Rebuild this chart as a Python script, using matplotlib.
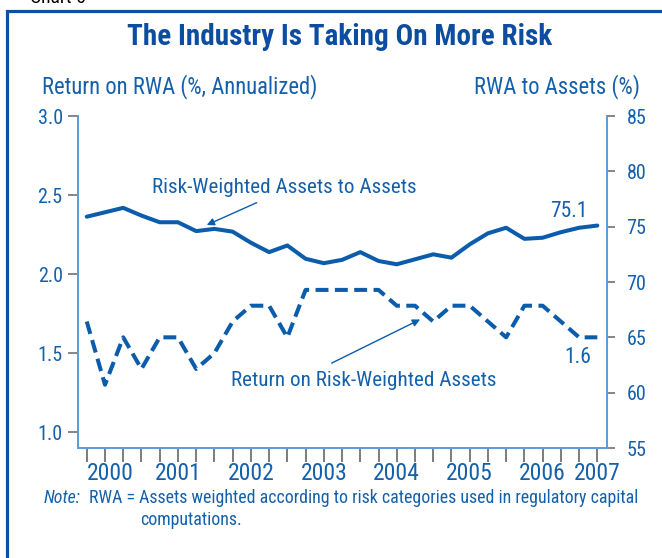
import matplotlib
matplotlib.use("Agg")
import matplotlib.pyplot as plt
from matplotlib import font_manager
from matplotlib.patches import Rectangle
from matplotlib.ticker import FixedLocator, NullFormatter, FixedFormatter

# ---------------- data ----------------
quarters = list(range(29))  # 2000Q1 .. 2007Q1
return_on_rwa = [1.7, 1.3, 1.6, 1.4, 1.6, 1.6, 1.4, 1.5, 1.7, 1.8,
                 1.8, 1.6, 1.9, 1.9, 1.9, 1.9, 1.9, 1.8, 1.8, 1.7,
                 1.8, 1.8, 1.7, 1.6, 1.8, 1.8, 1.7, 1.6, 1.6]
rwa_to_assets = [75.9, 76.3, 76.7, 76.0, 75.4, 75.4, 74.6, 74.8, 74.55, 73.55,
                 72.7, 73.3, 72.1, 71.7, 72.0, 72.7, 71.9, 71.6, 72.05, 72.5,
                 72.2, 73.4, 74.4, 74.9, 73.9, 74.0, 74.5, 74.9, 75.1]
year_labels = ["2000", "2001", "2002", "2003", "2004", "2005", "2006", "2007"]
year_label_pos = [1.3, 5, 9, 13, 17, 21, 25, 28]
left_ticks = [1.0, 1.5, 2.0, 2.5, 3.0]
right_ticks = [55, 60, 65, 70, 75, 80, 85]

# ---------------- fonts ----------------
entries = font_manager.fontManager.ttflist
names = {f.name for f in entries}

def has_condensed(family):
    return any(f.name == family and "condensed" in str(f.stretch) for f in entries)

FONT = None
STRETCH = "normal"
for fam in ["Roboto Condensed", "Liberation Sans Narrow", "Open Sans Condensed",
            "Noto Sans Condensed", "DejaVu Sans Condensed"]:
    if fam in names:
        FONT = fam
        break
if FONT is None:
    for fam in ["DejaVu Sans", "Noto Sans", "Open Sans", "Roboto", "Inter"]:
        if has_condensed(fam):
            FONT = fam
            STRETCH = "condensed"
            break
if FONT is None:
    FONT = "Roboto" if "Roboto" in names else "DejaVu Sans"

plt.rcParams["font.family"] = [FONT, "DejaVu Sans"]
plt.rcParams["font.stretch"] = STRETCH

NARROW = FONT not in ("Roboto", "DejaVu Sans") or STRETCH == "condensed"
S = 1.0 if NARROW else 0.9

LINE = "#0b5cab"
TEXT = "#1560ab"
TITLE = "#0d4d9f"
SPINE = "#5b9bd5"
TICK = "#666666"

fig = plt.figure(figsize=(6.62, 5.58), dpi=100)
W, H = 662, 558

def fx(px):
    return px / W

def fy(py):
    return 1 - py / H

ax = fig.add_axes([fx(78), fy(448), fx(607) - fx(78), fy(116) - fy(448)])
ax2 = ax.twinx()

ax.plot(quarters, return_on_rwa, color=LINE, lw=2.9, linestyle=(0, (3.2, 1.6)),
        dash_capstyle="butt", solid_joinstyle="round", zorder=3)
ax2.plot(quarters, rwa_to_assets, color=LINE, lw=2.9, solid_joinstyle="round",
         solid_capstyle="round", zorder=3)

ax.set_xlim(-0.48, 28.53)
ax.set_ylim(0.9, 3.0)
ax2.set_ylim(55, 85)

for a in (ax, ax2):
    a.spines["top"].set_visible(False)
    for s in ("left", "right", "bottom"):
        a.spines[s].set_color(SPINE)
        a.spines[s].set_linewidth(1.4)
    a.patch.set_visible(False)

ax.spines["right"].set_visible(False)
ax2.spines["left"].set_visible(False)
ax2.spines["bottom"].set_visible(False)

ax.set_yticks(left_ticks)
ax.set_yticklabels([f"{v:.1f}" for v in left_ticks])
ax2.set_yticks(right_ticks)
ax2.set_yticklabels([str(v) for v in right_ticks])

ax.tick_params(axis="y", direction="out", length=7, width=1.1, color=TICK,
               labelcolor=TEXT, labelsize=14.5 * S, pad=4)
ax2.tick_params(axis="y", direction="out", length=6, width=1.1, color=TICK,
                labelcolor=TEXT, labelsize=14.5 * S, pad=8)

ax.xaxis.remove_overlapping_locs = False
ax.xaxis.set_major_locator(FixedLocator(quarters))
ax.xaxis.set_major_formatter(NullFormatter())
ax.xaxis.set_minor_locator(FixedLocator(year_label_pos))
ax.xaxis.set_minor_formatter(FixedFormatter(year_labels))
ax.tick_params(axis="x", which="major", direction="out", length=10, width=1.2,
               color=TICK)
ax.tick_params(axis="x", which="minor", length=0, pad=10, labelsize=17 * S,
               labelcolor=TEXT)

# annotations
ax2.annotate("", xy=(6.58, 75.15), xytext=(9.32, 77.17),
             arrowprops=dict(arrowstyle="-|>", color=LINE, lw=1.0,
                             mutation_scale=11, shrinkA=0, shrinkB=0))
ax2.text(10.82, 78.58, "Risk-Weighted Assets to Assets", color=TEXT,
         fontsize=15.2 * S, ha="center", va="center")
ax.annotate("", xy=(18.28, 1.713), xytext=(13.43, 1.437),
            arrowprops=dict(arrowstyle="-|>", color=LINE, lw=1.0,
                            mutation_scale=11, shrinkA=0, shrinkB=0))
ax.text(15.21, 1.329, "Return on Risk-Weighted Assets", color=TEXT,
        fontsize=15.2 * S, ha="center", va="center")
ax2.text(26.45, 76.33, f"{rwa_to_assets[-1]:.1f}", color=TEXT, fontsize=15.5 * S,
         ha="center", va="center")
ax.text(26.94, 1.475, f"{return_on_rwa[-1]:.1f}", color=TEXT, fontsize=15.5 * S,
        ha="center", va="center")

# titles and labels
fig.text(fx(340), fy(37), "The Industry Is Taking On More Risk", color=TITLE,
         fontsize=21 * S, fontweight="bold", ha="center", va="center")
fig.text(fx(42), fy(87), "Return on RWA (%, Annualized)", color=TEXT,
         fontsize=16.3 * S, ha="left", va="center")
fig.text(fx(640), fy(87), "RWA to Assets (%)", color=TEXT,
         fontsize=16.3 * S, ha="right", va="center")

fig.text(fx(44), fy(498), "Note:", color=TEXT, fontsize=12.9 * S, style="italic",
         ha="left", va="center")
fig.text(fx(89), fy(498),
         "RWA = Assets weighted according to risk categories used in regulatory capital",
         color=TEXT, fontsize=12.9 * S, ha="left", va="center")
fig.text(fx(140), fy(520), "computations.", color=TEXT, fontsize=12.9 * S,
         ha="left", va="center")

# frame
fig.patches.append(Rectangle((fx(7), -0.05), 1.2, fy(11) + 0.05,
                             transform=fig.transFigure, fill=False,
                             edgecolor="#0d4fa3", linewidth=2.3,
                             clip_on=False))
fig.text(fx(30), fy(3), "Chart 5", color="black", fontsize=14,
         ha="left", va="baseline")

fig.savefig("out.png", dpi=100)
